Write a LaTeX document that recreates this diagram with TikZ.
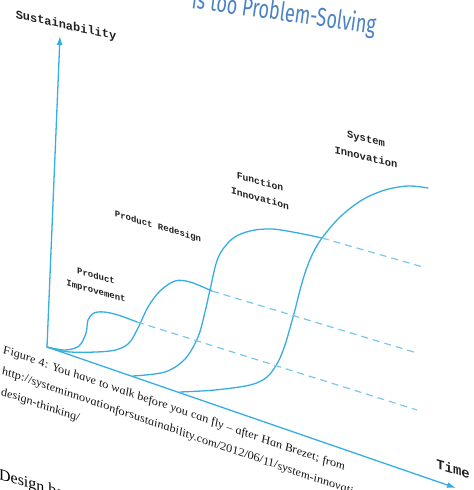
\documentclass[tikz,border=0pt]{standalone}
\usepackage{fontspec}
\setmainfont{Liberation Serif}
\newfontfamily\monofont{Liberation Mono}
\newfontfamily\headfont{Fira Sans}
\usetikzlibrary{arrows.meta}

\definecolor{chartblue}{RGB}{54,174,226}
\definecolor{dashblue}{RGB}{120,200,236}
\definecolor{headblue}{RGB}{74,130,198}
\definecolor{inkgray}{RGB}{34,34,34}

\tikzset{
  axisline/.style={chartblue, line width=1.3bp, -{Latex[length=9bp,width=6bp]}},
  curve/.style={chartblue, line width=1.3bp, line join=round, line cap=round},
  plateau/.style={dashblue, line width=1.2bp, dash pattern=on 7bp off 5bp},
  lbl/.style={font=\monofont\bfseries\fontsize{#1}{#1}\selectfont, text=inkgray,
    align=center, inner sep=0pt},
  capline/.style={font=\itshape\fontsize{12.1}{14}\selectfont, text=black!90,
    inner sep=0pt, anchor=base west, yslant=-0.345},
}

\begin{document}
\begin{tikzpicture}[x=1bp, y=-1bp]
\useasboundingbox (0,0) rectangle (474,490);

% heading, partly cut by the page edge (narrowed and tilted)
\node[anchor=base east, font=\headfont\fontsize{26}{26}\selectfont, text=headblue,
      inner sep=0pt, rotate=-8] (head) at (375,34) {\scalebox{0.7}[1]{is too Problem-Solving}};

% axes
\coordinate (O) at (47,347);
\coordinate (ytip) at (60,36);
\coordinate (xtip) at (456,488);
\draw[axisline] (O) -- (ytip);
\draw[axisline] (O) -- (xtip);

\node[lbl=12, yslant=-0.22] (ylab) at (66,26) {Sustainability};
\node[lbl=14, yslant=-0.30] (xlab) at (453,469) {Time};

% crossing points where each curve hands over to the next
\coordinate (x1) at (137,322);
\coordinate (x2) at (212,291);
\coordinate (x3) at (322,238);
\coordinate (e1) at (417,410);
\coordinate (e2) at (417,353);
\coordinate (e3) at (423,267);

% product improvement
\draw[curve] plot[smooth, tension=0.55] coordinates
  {(47,347) (65,350) (79,346) (86,333) (88,320) (94,313) (104,312) (118,315) (137,322)};
% product redesign
\draw[curve] plot[smooth, tension=0.55] coordinates
  {(47,347) (70,352) (110,351) (128,344) (138,328) (148,307) (160,291) (175,281) (190,282) (212,291)};
% function innovation
\draw[curve] plot[smooth, tension=0.55] coordinates
  {(133,376) (165,372) (185,359) (198,337) (205,312) (210,290) (218,258) (232,239) (250,231) (272,229) (298,233) (322,238)};
% system innovation
\draw[curve] plot[smooth, tension=0.55] coordinates
  {(180,392) (215,390) (250,385) (267,377) (278,362) (285,345) (290,328) (295,310) (300,290) (306,270) (313,253) (322,238) (340,217) (362,200) (385,190) (408,186) (428,188)};

% plateaus continued as dashed lines
\draw[plateau] (x1) -- (e1);
\draw[plateau] (x2) -- (e2);
\draw[plateau] (x3) -- (e3);

% stage labels
\node[lbl=9, yslant=-0.28] (pi) at (96,284) {Product\\[6bp]Improvement};
\node[lbl=9, yslant=-0.29] (pr) at (158,227) {Product Redesign};
\node[lbl=9.7, yslant=-0.27] (fi) at (260,190) {Function\\[7bp]Innovation};
\node[lbl=10.5, yslant=-0.23] (si) at (366,148) {System\\[8bp]Innovation};

% caption
\node[capline] (cap1) at (3,353) {Figure 4: You have to walk before you can fly -- after Han Brezet; from};
\node[capline] (cap2) at (2,374) {http://systeminnovationforsustainability.com/2012/06/11/system-innovation-};
\node[capline] (cap3) at (1,395) {design-thinking/};

% body text below
\node[anchor=base west, inner sep=0pt, font=\fontsize{16}{16}\selectfont, text=black,
      yslant=-0.3] (body) at (-1,479) {Design ba};
\end{tikzpicture}
\end{document}
